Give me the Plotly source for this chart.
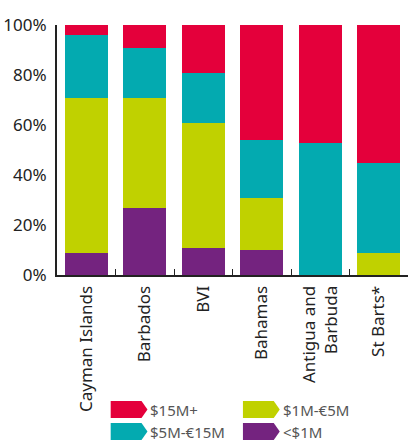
import plotly.graph_objects as go

categories = ["Cayman Islands", "Barbados", "BVI", "Bahamas", "Antigua and<br>Barbuda", "St Barts*"]
under_1m = [9, 27, 11, 10, 0, 0]
m1_5 = [62, 44, 50, 21, 0, 9]
m5_15 = [25, 20, 20, 23, 53, 36]
m15_plus = [4, 9, 19, 46, 47, 55]

series_names = ["<$1M", "$1M-€5M", "$5M-€15M", "$15M+"]
series_values = [under_1m, m1_5, m5_15, m15_plus]
colors = ["#74237F", "#C0D100", "#03AAB0", "#E4003B"]
y_ticks = [0, 20, 40, 60, 80, 100]
y_tick_labels = ["0%", "20%", "40%", "60%", "80%", "100%"]

W, H = 411, 443
ML, MR, MT, MB = 55, 3, 25, 168
PW, PH = W - ML - MR, H - MT - MB
FONT = "Noto Sans"

fig = go.Figure()
for name, vals, col in zip(series_names, series_values, colors):
    fig.add_trace(go.Bar(x=categories, y=vals, name=name, marker_color=col,
                         marker_line_width=0, showlegend=False))

def px(x):
    return (x - ML) / PW

def py(y):
    return (H - MB - y) / PH

# custom legend with arrow-shaped swatches
legend_items = [("$15M+", "#E4003B", 109, 401), ("$1M-€5M", "#C0D100", 242, 401),
                ("$5M-€15M", "#03AAB0", 109, 423), ("<$1M", "#74237F", 242, 423)]
shapes = []
annotations = []
for label, col, x0, y0 in legend_items:
    w, h, tip = 37, 17, 6
    pts = [(x0, y0), (x0 + w - tip, y0), (x0 + w, y0 + h / 2), (x0 + w - tip, y0 + h), (x0, y0 + h)]
    path = "M " + " L ".join(f"{px(a):.5f},{py(b):.5f}" for a, b in pts) + " Z"
    shapes.append(dict(type="path", path=path, xref="paper", yref="paper",
                       fillcolor=col, line=dict(width=0)))
    annotations.append(dict(text=label, x=px(x0 + w + 1), y=py(y0 + h / 2), xref="paper", yref="paper",
                            xanchor="left", yanchor="middle", showarrow=False,
                            font=dict(family=FONT, size=15, color="#555555")))

fig.update_layout(
    width=W, height=H,
    margin=dict(l=ML, r=MR, t=MT, b=MB),
    barmode="stack", bargap=0.27,
    plot_bgcolor="white", paper_bgcolor="white",
    font=dict(family=FONT, size=16, color="#222222"),
    shapes=shapes, annotations=annotations,
    xaxis=dict(showline=True, linecolor="#222222", linewidth=2, ticks="inside",
               tickson="boundaries", ticklen=6, tickcolor="#222222", tickwidth=1,
               tickangle=-90, tickfont=dict(size=17, color="#222222"), showgrid=False,
               ticklabelstandoff=2),
    yaxis=dict(range=[0, 100], tickmode="array", tickvals=y_ticks, ticktext=y_tick_labels,
               showline=True, linecolor="#222222", linewidth=2, showgrid=False,
               ticks="", tickfont=dict(size=17, color="#222222"), zeroline=False,
               ticklabelstandoff=5),
)

fig.write_html("out.html")
